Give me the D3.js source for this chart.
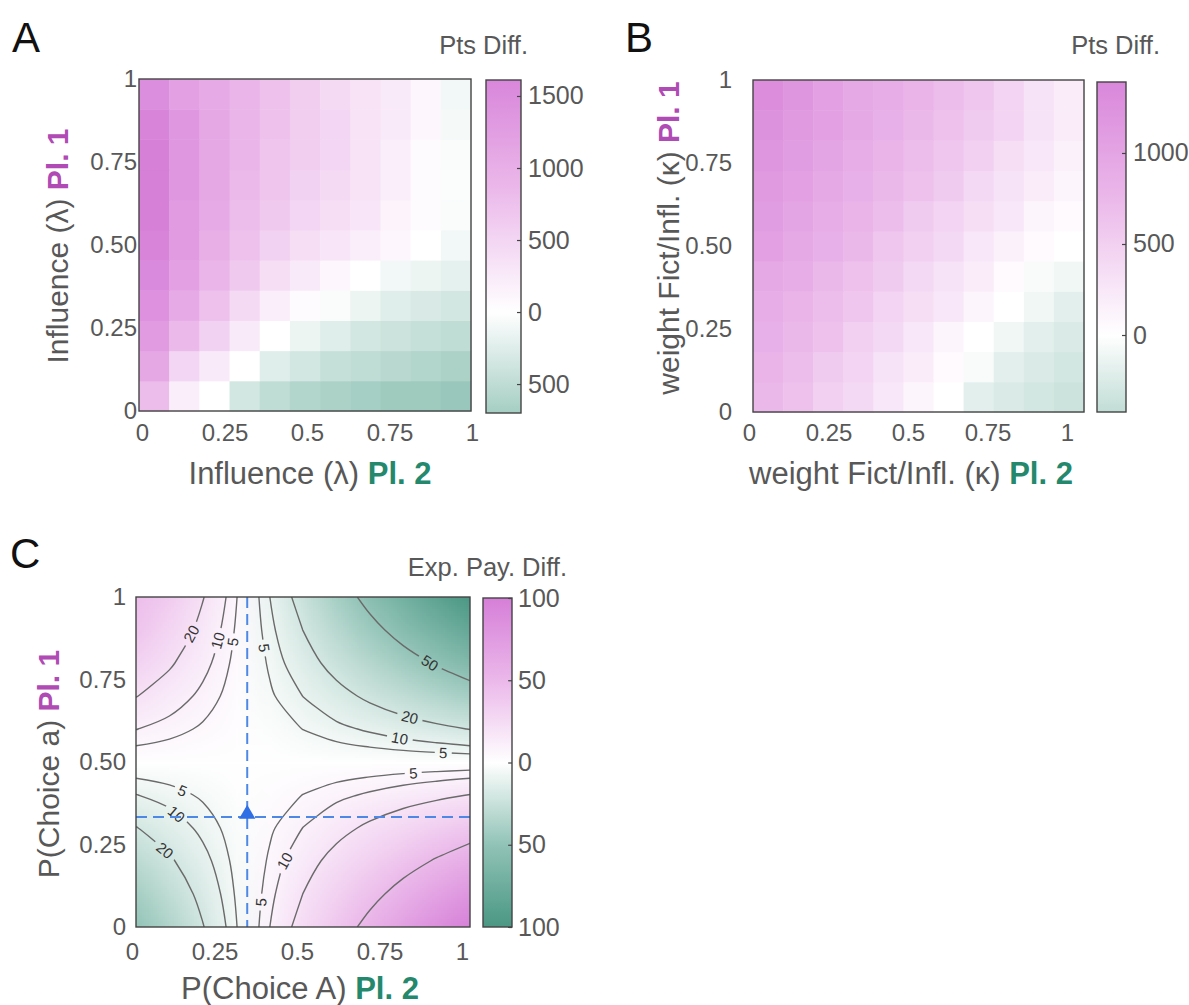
<!DOCTYPE html>
<html><head><meta charset="utf-8">
<script src="https://cdn.jsdelivr.net/npm/d3@7"></script>
<style>body{margin:0;background:#fff;} svg{display:block;}</style>
</head><body><svg id="c" width="1189" height="1005"></svg>
<script>
// ---------------- DATA ----------------
const gridSteps = [0, 0.1, 0.2, 0.3, 0.4, 0.5, 0.6, 0.7, 0.8, 0.9, 1];
const axisTicks = [0, 0.25, 0.5, 0.75, 1];
const tickLabelsX = ["0", "0.25", "0.5", "0.75", "1"];
const tickLabelsY = ["0", "0.25", "0.50", "0.75", "1"];

// Panel A: points difference, rows y = 0 .. 1 (Pl. 1 influence), columns x = 0 .. 1 (Pl. 2 influence)
const ptsDiffA = [
  [ 800,  200,    0, -350, -500, -600, -650, -700, -750, -750, -800],
  [1100,  500,  250,    0, -250, -350, -450, -500, -550, -600, -650],
  [1300,  850,  550,  250,    0, -150, -250, -350, -400, -450, -500],
  [1450, 1050,  750,  450,  200,   50,  -50, -150, -250, -300, -350],
  [1550, 1200,  900,  650,  400,  250,  100,    0, -100, -150, -200],
  [1650, 1300, 1000,  750,  550,  400,  300,  200,  100,    0, -100],
  [1700, 1300, 1050,  800,  650,  500,  400,  300,  150,   50,  -50],
  [1700, 1350, 1100,  850,  700,  550,  450,  350,  200,   50,  -30],
  [1700, 1350, 1100,  900,  700,  600,  500,  350,  200,   50,  -50],
  [1650, 1350, 1100,  900,  750,  600,  500,  350,  250,  100,  -80],
  [1500, 1200, 1050,  900,  750,  600,  450,  350,  250,  100, -100]
];
// Panel B: points difference, rows y = 0 .. 1 (Pl. 1 kappa), columns x = 0 .. 1 (Pl. 2 kappa)
const ptsDiffB = [
  [ 750,  650,  500,  400,  250,  100,    0, -200, -250, -300, -350],
  [ 800,  700,  550,  450,  300,  200,   50,  -50, -200, -250, -300],
  [ 850,  750,  650,  500,  400,  250,  100,    0, -100, -200, -250],
  [ 900,  800,  700,  600,  450,  350,  250,  100,    0, -100, -200],
  [ 950,  900,  750,  650,  550,  400,  300,  200,   50,  -50, -100],
  [1050,  950,  850,  750,  600,  500,  400,  250,  150,   50,    0],
  [1100, 1000,  900,  800,  700,  550,  450,  350,  250,  100,   50],
  [1150, 1050,  950,  850,  750,  650,  550,  400,  300,  200,  100],
  [1200, 1100, 1000,  900,  800,  700,  600,  500,  350,  250,  150],
  [1250, 1150, 1050,  950,  850,  750,  650,  550,  450,  300,  200],
  [1300, 1200, 1050,  950,  900,  800,  700,  600,  450,  300,  200]
];
// Panel C: expected payoff difference, rows y = P(Choice a) 0 .. 1, columns x = P(Choice A) 0 .. 1
const expPayDiffC = [
  [-49.0, -35.9, -20.6, -5.4,  9.9,  25.2,  40.4,  55.7,  70.9,  86.2, 101.4],
  [-40.9, -28.7, -16.5, -4.3,  7.9,  20.1,  32.3,  44.5,  56.7,  68.9,  81.1],
  [-30.7, -21.5, -12.4, -3.2,  5.9,  15.1,  24.2,  33.4,  42.5,  51.7,  60.8],
  [-20.4, -14.3,  -8.2, -2.1,  4.0,  10.1,  16.2,  22.3,  28.4,  34.5,  40.6],
  [-10.2,  -7.2,  -4.1, -1.1,  2.0,   5.1,   8.1,  11.1,  14.2,  17.2,  20.3],
  [  0.0,   0.0,   0.0,  0.0,  0.0,   0.0,   0.0,   0.0,   0.0,   0.0,   0.0],
  [ 10.2,   7.2,   4.1,  1.1, -2.0,  -5.1,  -8.1, -11.1, -14.2, -17.2, -20.3],
  [ 20.4,  14.3,   8.2,  2.1, -4.0, -10.1, -16.2, -22.3, -28.4, -34.5, -40.6],
  [ 30.7,  21.5,  12.4,  3.2, -5.9, -15.1, -24.2, -33.4, -42.5, -51.7, -60.8],
  [ 40.9,  28.7,  16.5,  4.3, -7.9, -20.1, -32.3, -44.5, -56.7, -68.9, -81.1],
  [ 46.0,  35.9,  20.6,  5.4, -9.9, -25.2, -40.4, -55.7, -70.9, -86.2, -101.4]
];
const contourLevels = [-50, -20, -10, -5, 5, 10, 20, 50];
// [level, approx x, approx y] of each inline contour label
const contourLabels = [
  [20, 0.156, 0.894], [10, 0.237, 0.870], [5, 0.29, 0.864], [-5, 0.38, 0.845],
  [-50, 0.88, 0.80], [-20, 0.82, 0.636], [-10, 0.79, 0.573], [-5, 0.92, 0.53],
  [5, 0.83, 0.467], [-5, 0.14, 0.415], [-10, 0.126, 0.348], [-20, 0.093, 0.24],
  [10, 0.44, 0.203], [5, 0.371, 0.076]
];
const equilibrium = [0.333, 0.333];

const cbarDomainA = [-701, 1611];
const cbarTicksA = [-500, 0, 500, 1000, 1500];
const cbarDomainB = [-423, 1390];
const cbarTicksB = [0, 500, 1000];
const cbarDomainC = [-100, 100];
const cbarTicksC = [-100, -50, 0, 50, 100];

// ---------------- STYLE ----------------
const FONT = "'Liberation Sans', Arial, Helvetica, sans-serif";
const TXT = "#585858";
const PL1 = "#b04ab4";
const PL2 = "#23886c";
const TICK_FS = 24;
const cmap = d3.scaleLinear().domain([-1, -0.5, 0, 0.5, 1])
  .range(["#4a9784", "#91c3b6", "#ffffff", "#ebb8ea", "#d67fd8"]).clamp(true);

const svg = d3.select("#c").attr("font-family", FONT);
const defs = svg.append("defs");
const n = gridSteps.length;

function heat(box, data, maxAbs) {
  const xb = d3.scaleBand().domain(d3.range(n)).range([box.x0, box.x1]);
  const yb = d3.scaleBand().domain(d3.range(n)).range([box.y1, box.y0]);
  const cells = [];
  data.forEach((row, j) => row.forEach((v, i) => cells.push({i, j, v})));
  svg.append("g").selectAll("rect").data(cells).join("rect")
    .attr("x", d => xb(d.i)).attr("y", d => yb(d.j))
    .attr("width", xb.bandwidth() + 0.5).attr("height", yb.bandwidth() + 0.5)
    .attr("fill", d => cmap(d.v / maxAbs));
}

function frame(box) {
  svg.append("rect").attr("x", box.x0).attr("y", box.y0)
    .attr("width", box.x1 - box.x0).attr("height", box.y1 - box.y0)
    .attr("fill", "none").attr("stroke", "#444").attr("stroke-width", 1.4);
}

function axes(box, xRange, yAxisX, xPad) {
  const xs = d3.scaleLinear().domain([0, 1]).range(xRange);
  const ys = d3.scaleLinear().domain([0, 1]).range([box.y1, box.y0]);
  const ax = svg.append("g").attr("transform", `translate(0,${box.y1})`)
    .call(d3.axisBottom(xs).tickValues(axisTicks).tickFormat((d, i) => tickLabelsX[i]).tickSize(0).tickPadding(xPad));
  ax.select(".domain").remove();
  ax.selectAll("text").attr("font-size", TICK_FS).attr("fill", TXT).attr("font-family", FONT);
  const ay = svg.append("g").attr("transform", `translate(${yAxisX},0)`)
    .call(d3.axisLeft(ys).tickValues(axisTicks).tickFormat((d, i) => tickLabelsY[i]).tickSize(0).tickPadding(0));
  ay.select(".domain").remove();
  ay.selectAll("text").attr("font-size", TICK_FS).attr("fill", TXT).attr("font-family", FONT);
}

function axisLabel(x, y, rot, main, pl, color, fs) {
  const t = svg.append("text").attr("transform", `translate(${x},${y}) rotate(${rot})`)
    .attr("text-anchor", "middle").attr("dominant-baseline", "central")
    .attr("font-size", fs);
  t.append("tspan").attr("fill", TXT).text(main + " ");
  t.append("tspan").attr("fill", color).attr("font-weight", "bold").text(pl);
}

function colorbar(id, x0, x1, y0, y1, domain, maxAbs, ticks, labelX, title, titleX, titleY) {
  const s = d3.scaleLinear().domain(domain).range([y1, y0]);
  const grad = defs.append("linearGradient").attr("id", id)
    .attr("x1", 0).attr("y1", 1).attr("x2", 0).attr("y2", 0);
  d3.range(0, 101).forEach(k => {
    const v = domain[0] + (domain[1] - domain[0]) * k / 100;
    grad.append("stop").attr("offset", k / 100).attr("stop-color", cmap(v / maxAbs));
  });
  svg.append("rect").attr("x", x0).attr("y", y0).attr("width", x1 - x0).attr("height", y1 - y0)
    .attr("fill", `url(#${id})`).attr("stroke", "#444").attr("stroke-width", 1.4);
  const ag = svg.append("g").attr("transform", `translate(${x1},0)`)
    .call(d3.axisRight(s).tickValues(ticks).tickFormat(d => String(Math.abs(d)))
      .tickSizeInner(-4).tickSizeOuter(0).tickPadding(labelX - x1));
  ag.select(".domain").remove();
  ag.selectAll("line").attr("stroke", "#444").attr("stroke-width", 1.2);
  ag.selectAll("text").attr("font-size", 25).attr("fill", TXT).attr("font-family", FONT);
  svg.append("text").attr("x", titleX).attr("y", titleY).attr("text-anchor", "end")
    .attr("dominant-baseline", "central").attr("font-size", 25.5).attr("fill", TXT).text(title);
}

function panelLetter(t, x, y) {
  svg.append("text").attr("x", x).attr("y", y).attr("font-size", 42).attr("fill", "#111").text(t);
}

// ---------------- PANEL A ----------------
const boxA = {x0: 139, x1: 471, y0: 79, y1: 411};
axes(boxA, [boxA.x0 + 3, boxA.x1 + 1], 137, 13);
heat(boxA, ptsDiffA, 1720);
frame(boxA);
colorbar("gA", 486, 521, 80, 413, cbarDomainA, 1720, cbarTicksA, 528, "Pts Diff.", 528, 45);
axisLabel(310, 473, 0, "Influence (\u03bb)", "Pl. 2", PL2, 31);
axisLabel(57, 246, -90, "Influence (\u03bb)", "Pl. 1", PL1, 30);
panelLetter("A", 12, 52);

// ---------------- PANEL B ----------------
const boxB = {x0: 753, x1: 1084, y0: 80, y1: 412};
axes(boxB, [749, 1067], 732, 12);
heat(boxB, ptsDiffB, 1500);
frame(boxB);
colorbar("gB", 1097, 1126, 82, 412, cbarDomainB, 1500, cbarTicksB, 1133, "Pts Diff.", 1160, 45);
axisLabel(911, 473, 0, "weight Fict/Infl. (\u03ba)", "Pl. 2", PL2, 31);
axisLabel(668, 238, -90, "weight Fict/Infl. (\u03ba)", "Pl. 1", PL1, 30);
panelLetter("B", 625, 52);

// ---------------- PANEL C ----------------
const boxC = {x0: 136, x1: 470, y0: 597, y1: 927};
axes(boxC, [132, 462], 126, 16);
const xsC = d3.scaleLinear().domain([0, 1]).range([boxC.x0, boxC.x1]);
const ysC = d3.scaleLinear().domain([0, 1]).range([boxC.y1, boxC.y0]);

defs.append("clipPath").attr("id", "clipC").append("rect")
  .attr("x", boxC.x0).attr("y", boxC.y0).attr("width", boxC.x1 - boxC.x0).attr("height", boxC.y1 - boxC.y0);

// smooth background: grid rendered to an image, browser-smoothed
const cv = document.createElement("canvas"); cv.width = n; cv.height = n;
const ctx = cv.getContext("2d"); const img = ctx.createImageData(n, n);
expPayDiffC.forEach((row, j) => row.forEach((v, i) => {
  const c = d3.rgb(cmap(v / 100)); const k = ((n - 1 - j) * n + i) * 4;
  img.data[k] = c.r; img.data[k + 1] = c.g; img.data[k + 2] = c.b; img.data[k + 3] = 255;
}));
ctx.putImageData(img, 0, 0);
const cw = (boxC.x1 - boxC.x0) / (n - 1), ch = (boxC.y1 - boxC.y0) / (n - 1);
const gC = svg.append("g").attr("clip-path", "url(#clipC)");
gC.append("image").attr("href", cv.toDataURL())
  .attr("x", xsC(0) - cw / 2).attr("y", ysC(1) - ch / 2)
  .attr("width", cw * n).attr("height", ch * n)
  .attr("preserveAspectRatio", "none").style("image-rendering", "auto");

// contours
const flat = [];
expPayDiffC.forEach(row => row.forEach(v => flat.push(v)));
const conts = d3.contours().size([n, n]).thresholds(contourLevels)(flat);
const toPx = p => [xsC((p[0] - 0.5) / (n - 1)), ysC((p[1] - 0.5) / (n - 1))];
function isolines(contour) {
  const lines = [];
  const onB = p => p[0] <= 0 || p[0] >= n || p[1] <= 0 || p[1] >= n;
  contour.coordinates.forEach(poly => poly.forEach(ring => {
    const pts = ring.slice(0, -1);
    const start = pts.findIndex(onB);
    if (start < 0) { lines.push(pts.concat([pts[0]])); return; }
    let cur = [];
    for (let k = 1; k <= pts.length; k++) {
      const p = pts[(start + k) % pts.length];
      if (onB(p)) { if (cur.length > 1) lines.push(cur); cur = []; }
      else cur.push(p);
    }
    if (cur.length > 1) lines.push(cur);
  }));
  return lines.map(l => l.map(toPx));
}
const levelLines = new Map();
conts.forEach(c => levelLines.set(c.value, isolines(c)));

// label placement: nearest point on the level's contour
const mask = defs.append("mask").attr("id", "lblMask").attr("maskUnits", "userSpaceOnUse")
  .attr("x", 0).attr("y", 0).attr("width", 1189).attr("height", 1005);
mask.append("rect").attr("x", 0).attr("y", 0).attr("width", 1189).attr("height", 1005).attr("fill", "white");
const placed = contourLabels.map(([lev, ax, ay]) => {
  const tx = xsC(ax), ty = ysC(ay);
  let best = null;
  (levelLines.get(lev) || []).forEach(line => {
    for (let k = 0; k < line.length - 1; k++) {
      const [x1, y1] = line[k], [x2, y2] = line[k + 1];
      const dx = x2 - x1, dy = y2 - y1, L2 = dx * dx + dy * dy || 1;
      let t = ((tx - x1) * dx + (ty - y1) * dy) / L2; t = Math.max(0, Math.min(1, t));
      const px = x1 + t * dx, py = y1 + t * dy;
      const d2 = (px - tx) ** 2 + (py - ty) ** 2;
      if (!best || d2 < best.d2) best = {d2, px, py, ang: Math.atan2(dy, dx) * 180 / Math.PI};
    }
  });
  let a = best.ang; if (a > 90) a -= 180; if (a < -90) a += 180;
  const txt = String(Math.abs(lev));
  const w = txt.length * 9 + 8;
  mask.append("rect").attr("x", -w / 2).attr("y", -8).attr("width", w).attr("height", 16)
    .attr("transform", `translate(${best.px},${best.py}) rotate(${a})`).attr("fill", "black");
  return {x: best.px, y: best.py, a, txt};
});

const line = d3.line().curve(d3.curveCatmullRom.alpha(0.5));
const gLines = gC.append("g").attr("mask", "url(#lblMask)");
levelLines.forEach(lines => lines.forEach(l => {
  gLines.append("path").attr("d", line(l)).attr("fill", "none")
    .attr("stroke", "#6a6a6a").attr("stroke-width", 1.4);
}));
gC.selectAll("text.cl").data(placed).join("text").attr("class", "cl")
  .attr("transform", d => `translate(${d.x},${d.y}) rotate(${d.a})`)
  .attr("text-anchor", "middle").attr("dominant-baseline", "central")
  .attr("font-size", 15).attr("fill", "#333").text(d => d.txt);

// equilibrium guides
gC.append("line").attr("x1", xsC(equilibrium[0])).attr("x2", xsC(equilibrium[0]))
  .attr("y1", ysC(1)).attr("y2", ysC(0))
  .attr("stroke", "#4d88e6").attr("stroke-width", 2).attr("stroke-dasharray", "11,6");
gC.append("line").attr("x1", xsC(0)).attr("x2", xsC(1))
  .attr("y1", ysC(equilibrium[1])).attr("y2", ysC(equilibrium[1]))
  .attr("stroke", "#4d88e6").attr("stroke-width", 2).attr("stroke-dasharray", "11,6");
svg.append("path").attr("d", d3.symbol(d3.symbolTriangle).size(115)())
  .attr("transform", `translate(${xsC(equilibrium[0])},${ysC(equilibrium[1]) - 3})`)
  .attr("fill", "#2f6fe6");

frame(boxC);
colorbar("gC", 483, 512, 598, 927, cbarDomainC, 100, cbarTicksC, 518, "Exp. Pay. Diff.", 567, 567);
axisLabel(300, 988, 0, "P(Choice A)", "Pl. 2", PL2, 31);
axisLabel(48, 764, -90, "P(Choice a)", "Pl. 1", PL1, 30);
panelLetter("C", 10, 568);
</script>
</body></html>
